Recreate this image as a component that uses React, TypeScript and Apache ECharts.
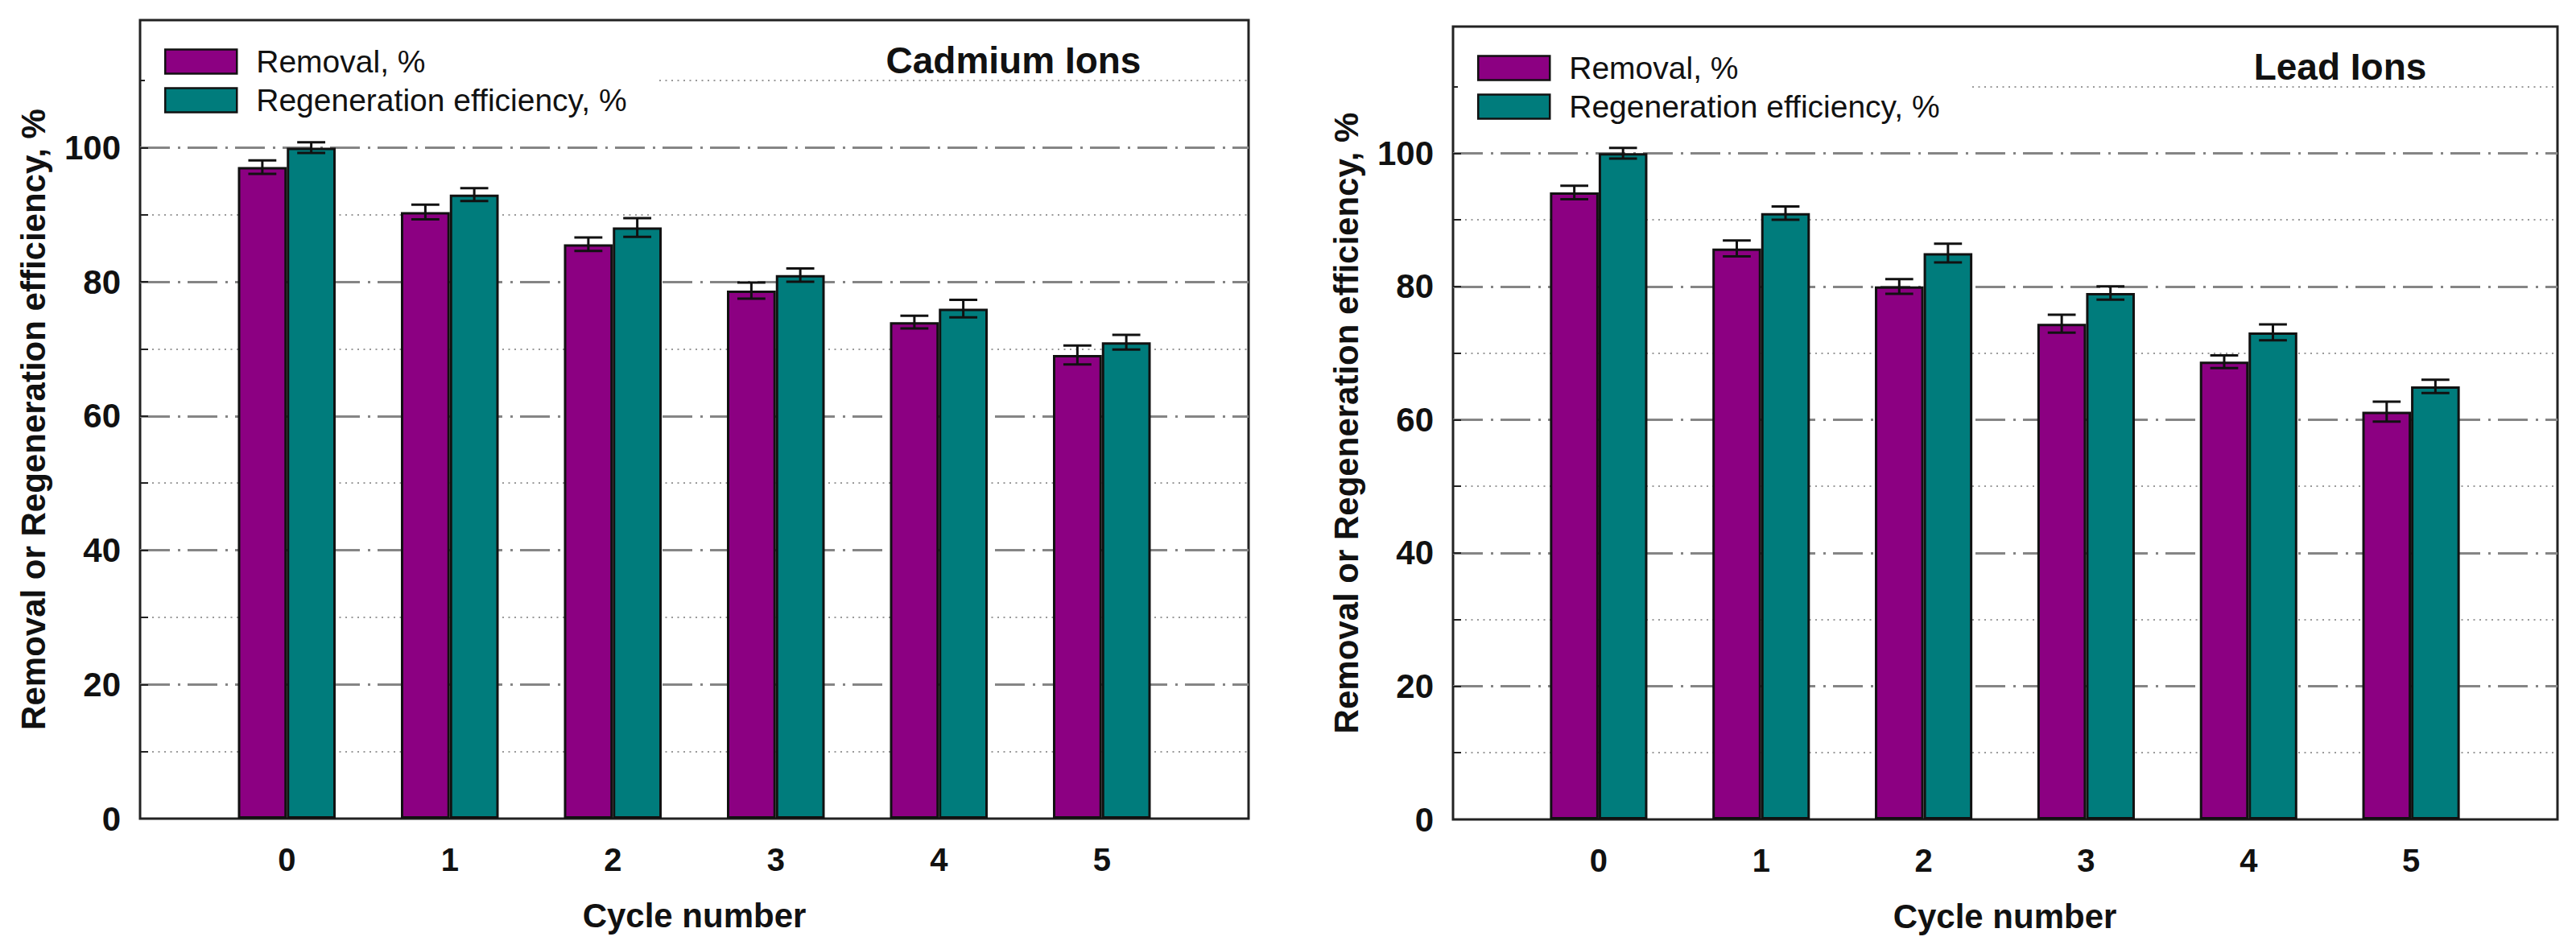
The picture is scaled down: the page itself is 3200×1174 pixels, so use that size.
import React, { useEffect, useRef } from 'react';
import * as echarts from 'echarts';

// cycle numbers on the x axis
const cycles = ['0', '1', '2', '3', '4', '5'];

// Cadmium ions
const cdRemoval = [97.1, 90.4, 85.6, 78.7, 74.0, 69.1];
const cdRemovalErr = [1.0, 1.1, 1.0, 1.2, 0.95, 1.4];
const cdRegen = [100, 93.0, 88.1, 81.0, 76.0, 71.0];
const cdRegenErr = [0.8, 0.95, 1.4, 1.0, 1.3, 1.1];

// Lead ions
const pbRemoval = [94.1, 85.7, 80.0, 74.4, 68.7, 61.2];
const pbRemovalErr = [1.0, 1.2, 1.1, 1.35, 0.95, 1.5];
const pbRegen = [100, 91.0, 85.0, 79.0, 73.1, 65.0];
const pbRegenErr = [0.8, 1.0, 1.4, 1.0, 1.2, 1.0];

const Y_MAX = 119;
const FONT = '"Liberation Sans", Arial, sans-serif';
const REMOVAL = 'Removal, %';
const REGEN = 'Regeneration efficiency, %';
const PURPLE = '#8c0082';
const TEAL = '#007c7c';

// error bar drawn over the bar, side -1 = left bar, +1 = right bar
const errorBar = (side: number) => (_params: any, api: any) => {
  const x = api.value(0);
  const val = api.value(1);
  const err = api.value(2);
  const band = api.size([1, 0])[0];
  const shift = band * 0.15 * side;
  const hi = api.coord([x, val + err]);
  const lo = api.coord([x, val - err]);
  const cx = hi[0] + shift;
  const half = band * 0.086;
  const style = { stroke: '#111', lineWidth: 3 };
  return {
    type: 'group',
    children: [
      { type: 'line', shape: { x1: cx, y1: hi[1], x2: cx, y2: lo[1] }, style },
      { type: 'line', shape: { x1: cx - half, y1: hi[1], x2: cx + half, y2: hi[1] }, style },
      { type: 'line', shape: { x1: cx - half, y1: lo[1], x2: cx + half, y2: lo[1] }, style },
    ],
  };
};

interface Panel {
  title: string;
  titleX: number;
  titleY: number;
  outer: { left: number; top: number; width: number; height: number };
  innerLeft: number;
  innerWidth: number;
  removal: number[];
  removalErr: number[];
  regen: number[];
  regenErr: number[];
}

const panels: Panel[] = [
  {
    title: 'Cadmium Ions',
    titleX: 1251,
    titleY: 67,
    outer: { left: 166, top: 17, width: 1377, height: 992 },
    innerLeft: 247,
    innerWidth: 1215,
    removal: cdRemoval,
    removalErr: cdRemovalErr,
    regen: cdRegen,
    regenErr: cdRegenErr,
  },
  {
    title: 'Lead Ions',
    titleX: 2899,
    titleY: 75,
    outer: { left: 1797, top: 25, width: 1372, height: 985 },
    innerLeft: 1877,
    innerWidth: 1211,
    removal: pbRemoval,
    removalErr: pbRemovalErr,
    regen: pbRegen,
    regenErr: pbRegenErr,
  },
];

const buildOption = () => {
  const grid: any[] = [];
  const xAxis: any[] = [];
  const yAxis: any[] = [];
  const series: any[] = [];
  const legend: any[] = [];
  const graphic: any[] = [];

  panels.forEach((p, k) => {
    const gOuter = 2 * k;
    const gInner = 2 * k + 1;
    grid.push({
      ...p.outer,
      show: true,
      borderColor: '#222',
      borderWidth: 3,
      backgroundColor: 'transparent',
    });
    grid.push({ left: p.innerLeft, width: p.innerWidth, top: p.outer.top, height: p.outer.height });

    xAxis.push({ type: 'value', gridIndex: gOuter, min: 0, max: 1, show: false });
    xAxis.push({
      type: 'category',
      gridIndex: gInner,
      data: cycles,
      boundaryGap: true,
      axisLine: { show: false },
      axisTick: { show: false },
      splitLine: { show: false },
      axisLabel: { margin: 31, fontSize: 40, fontWeight: 'bold', color: '#111', fontFamily: FONT },
      name: 'Cycle number',
      nameLocation: 'middle',
      nameGap: 99,
      nameTextStyle: { fontSize: 42, fontWeight: 'bold', color: '#111', fontFamily: FONT },
    });

    // major axis: labels + dash-dot lines every 20
    yAxis.push({
      type: 'value',
      gridIndex: gOuter,
      position: 'left',
      min: 0,
      max: Y_MAX,
      interval: 20,
      axisLine: { show: false },
      axisTick: { show: false },
      axisLabel: {
        margin: 24,
        fontSize: 42,
        fontWeight: 'bold',
        color: '#111',
        fontFamily: FONT,
        formatter: (v: number) => (v > 100 ? '' : String(v)),
      },
      splitLine: {
        show: true,
        lineStyle: {
          color: ['transparent', '#858585', '#858585', '#858585', '#858585', '#858585', 'transparent'],
          width: 3,
          type: [37, 10, 3, 9],
        },
      },
      name: 'Removal or Regeneration efficiency, %',
      nameLocation: 'middle',
      nameGap: 112,
      nameRotate: 90,
      nameTextStyle: { fontSize: 42, fontWeight: 'bold', color: '#111', fontFamily: FONT },
    });
    // minor axis: inside ticks + dotted lines at odd tens
    yAxis.push({
      type: 'value',
      gridIndex: gOuter,
      position: 'left',
      min: 0,
      max: Y_MAX,
      interval: 10,
      axisLine: { show: false },
      axisLabel: { show: false },
      axisTick: { show: true, inside: true, length: 10, lineStyle: { color: '#222', width: 2 } },
      splitLine: {
        show: true,
        lineStyle: { color: ['transparent', '#9a9a9a'], width: 2, type: [2, 5.5] },
      },
    });
    yAxis.push({ type: 'value', gridIndex: gInner, min: 0, max: Y_MAX, show: false });

    const xi = gInner;
    const yi = 3 * k + 2;
    series.push(
      {
        name: REMOVAL,
        type: 'bar',
        xAxisIndex: xi,
        yAxisIndex: yi,
        data: p.removal,
        barGap: '0%',
        barCategoryGap: '40%',
        itemStyle: { color: PURPLE, borderColor: '#111', borderWidth: 3 },
      },
      {
        name: REGEN,
        type: 'bar',
        xAxisIndex: xi,
        yAxisIndex: yi,
        data: p.regen,
        barGap: '0%',
        barCategoryGap: '40%',
        itemStyle: { color: TEAL, borderColor: '#111', borderWidth: 3 },
      },
      {
        type: 'custom',
        xAxisIndex: xi,
        yAxisIndex: yi,
        z: 5,
        renderItem: errorBar(-1),
        encode: { x: 0, y: 1 },
        data: p.removal.map((v, i) => [i, v, p.removalErr[i]]),
      },
      {
        type: 'custom',
        xAxisIndex: xi,
        yAxisIndex: yi,
        z: 5,
        renderItem: errorBar(1),
        encode: { x: 0, y: 1 },
        data: p.regen.map((v, i) => [i, v, p.regenErr[i]]),
      }
    );

    legend.push({
      orient: 'vertical',
      left: p.outer.left + 6,
      top: p.outer.top + 24,
      data: [REMOVAL, REGEN],
      selectedMode: false,
      icon: 'rect',
      itemWidth: 89,
      itemHeight: 30,
      itemGap: 9,
      backgroundColor: '#fff',
      padding: [8, 40, 8, 24],
      itemStyle: { borderColor: '#111', borderWidth: 2.5 },
      textStyle: { fontSize: 39, color: '#111', fontFamily: FONT, padding: [0, 0, 0, 19] },
    });

    graphic.push({
      type: 'text',
      x: p.titleX,
      y: p.titleY,
      z: 10,
      style: {
        text: p.title,
        fill: '#111',
        fontSize: 46,
        fontWeight: 'bold',
        fontFamily: FONT,
        textAlign: 'center',
        textVerticalAlign: 'middle',
      },
    });
  });

  return {
    animation: false,
    backgroundColor: '#fff',
    textStyle: { fontFamily: FONT },
    grid,
    xAxis,
    yAxis,
    legend,
    graphic,
    series,
  };
};

const App: React.FC = () => {
  const chartRef = useRef<HTMLDivElement>(null);

  useEffect(() => {
    if (!chartRef.current) return;
    const chart = echarts.init(chartRef.current, undefined, { renderer: 'svg' });
    chart.setOption(buildOption() as any);
    return () => {
      chart.dispose();
    };
  }, []);

  return <div ref={chartRef} style={{ width: '3184px', height: '1158px' }} />;
};

export default App;
